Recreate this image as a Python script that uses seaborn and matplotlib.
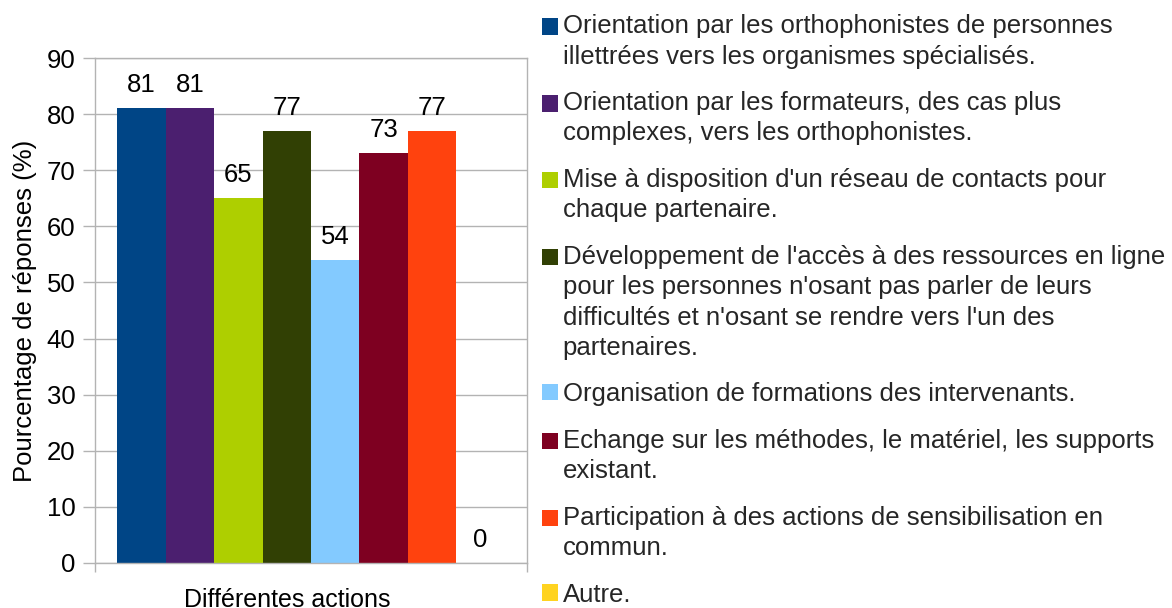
import matplotlib
matplotlib.use("Agg")
import matplotlib.pyplot as plt
from matplotlib.patches import Rectangle
from matplotlib.legend_handler import HandlerPatch
import seaborn as sns
import pandas as pd

# ---- data ----
group = "Différentes actions"
actions = [
    "Orientation par les orthophonistes de personnes\nillettrées vers les organismes spécialisés.",
    "Orientation par les formateurs, des cas plus\ncomplexes, vers les orthophonistes.",
    "Mise à disposition d'un réseau de contacts pour\nchaque partenaire.",
    "Développement de l'accès à des ressources en ligne\npour les personnes n'osant pas parler de leurs\ndifficultés et n'osant se rendre vers l'un des\npartenaires.",
    "Organisation de formations des intervenants.",
    "Echange sur les méthodes, le matériel, les supports\nexistant.",
    "Participation à des actions de sensibilisation en\ncommun.",
    "Autre.",
]
values = [81, 81, 65, 77, 54, 73, 77, 0]
colors = ["#004586", "#4b1f6f", "#aecf00", "#314004", "#83caff", "#7e0021", "#ff420e", "#ffd320"]
yticks = [0, 10, 20, 30, 40, 50, 60, 70, 80, 90]
ylabel = "Pourcentage de réponses (%)"

df = pd.DataFrame({"group": [group] * len(actions), "action": actions, "value": values})

sns.set_style("white")
plt.rcParams["font.family"] = ["Liberation Sans", "DejaVu Sans"]

fig = plt.figure(figsize=(11.72, 6.08), dpi=100)
ax = fig.add_axes([95 / 1172, 1 - 563 / 608, 432 / 1172, 505 / 608])

sns.barplot(data=df, x="group", y="value", hue="action", hue_order=actions,
            palette=colors, width=0.896, saturation=1, ax=ax, legend=True,
            edgecolor="none", linewidth=0)

for cont in ax.containers:
    ax.bar_label(cont, fmt="%.0f", padding=8, fontsize=18.5, color="black")

grey = "#b3b3b3"
ax.set_ylim(0, 90)
ax.set_xlim(-0.5, 0.5)
ax.set_yticks(yticks)
ax.set_xticks([-0.5, 0.5])
ax.set_xticklabels(["", ""])
ax.set_axisbelow(True)
ax.yaxis.grid(True, color=grey, linewidth=1)
ax.xaxis.grid(False)
for s in ax.spines.values():
    s.set_visible(True)
    s.set_color(grey)
    s.set_linewidth(1)
ax.tick_params(axis="y", length=8.6, width=1, color=grey, pad=5.5, labelsize=18.5, labelcolor="black", direction="out", left=True)
ax.tick_params(axis="x", length=6.5, width=1, color=grey, bottom=True, direction="out")
ax.set_ylabel(ylabel, fontsize=18.5, color="black", labelpad=7)
ax.set_xlabel(group, fontsize=18, color="black")
ax.xaxis.set_label_coords(192 / 432, -0.05)


class TopHandler(HandlerPatch):
    """Square marker aligned with the first line of a multi-line label."""
    def __init__(self, shift):
        super().__init__()
        self.shift = shift

    def create_artists(self, legend, orig_handle, xdescent, ydescent,
                       width, height, fontsize, trans):
        p = Rectangle(xy=(-xdescent, -ydescent + self.shift), width=width, height=height)
        self.update_prop(p, orig_handle, legend)
        p.set_transform(trans)
        return [p]


pitch_pt = 30.5 * 72 / 100
handles, labels = ax.get_legend_handles_labels()
ax.get_legend().remove()
hmap = {h: TopHandler((lab.count("\n")) / 2 * pitch_pt) for h, lab in zip(handles, labels)}
leg = fig.legend(handles, labels, loc="upper left", bbox_to_anchor=(537 / 1172, 0.985),
                 frameon=False, fontsize=18.5, handlelength=0.6, handleheight=0.6,
                 handletextpad=0.2, labelspacing=0.875, borderpad=0.2, borderaxespad=0,
                 handler_map=hmap)
for t in leg.get_texts():
    t.set_linespacing(1.335)

fig.savefig("out.png", dpi=100, facecolor="white")
